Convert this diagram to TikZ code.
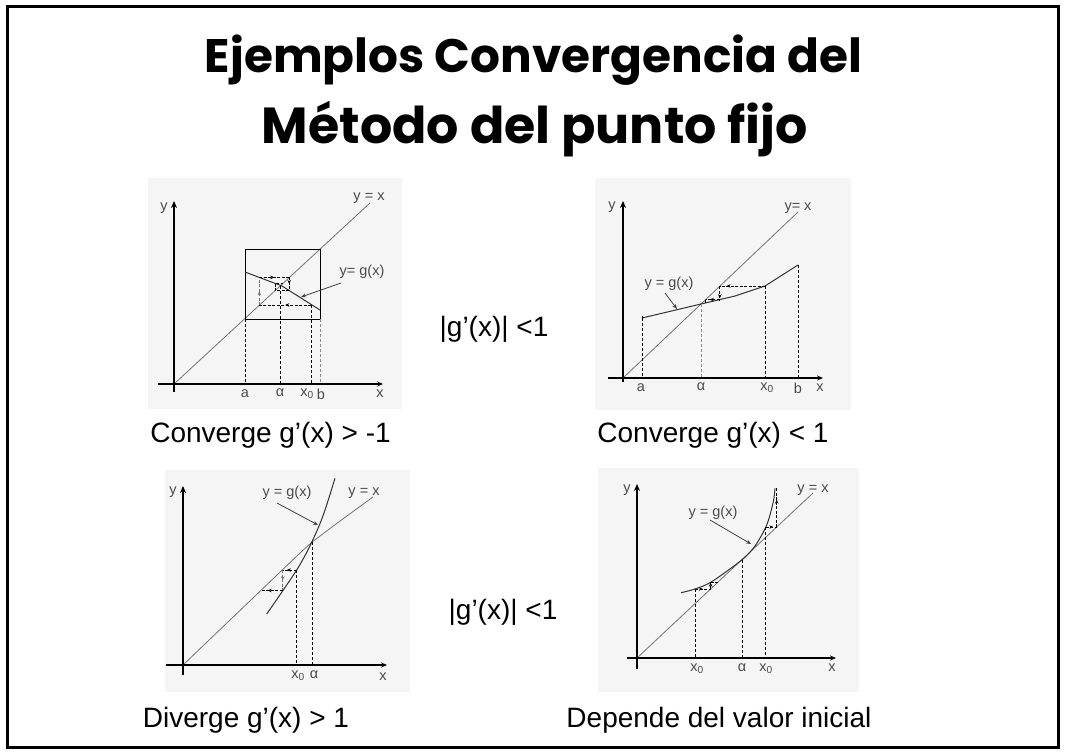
\documentclass[tikz,border=0pt]{standalone}
\usepackage{fontspec}
\setmainfont{Liberation Sans}
\newfontfamily\titlefont{Poppins}
\usetikzlibrary{arrows.meta,decorations.markings}
\definecolor{bgplot}{HTML}{F5F5F5}
\definecolor{lbl}{HTML}{4A4A4A}
\newcommand{\xo}{x\textsubscript{0}}
\tikzset{
  axisx/.style={black, line width=1.4pt, -{Stealth[length=6pt,width=5pt]}},
  axisy/.style={black, line width=2.2pt, -{Stealth[length=7pt,width=6pt]}},
  idline/.style={black!55, line width=0.8pt},
  gline/.style={black!80, line width=1pt},
  dashv/.style={black, line width=0.9pt, dash pattern=on 3pt off 2pt},
  cob/.style={black, line width=0.8pt, dash pattern=on 3pt off 1.5pt},
  marr/.style={postaction={decorate}, decoration={markings, mark=at position #1 with {\arrow{Stealth[length=4pt,width=3.5pt]}}}},
  marr/.default=0.5,
  plbl/.style={font=\fontsize{14.5}{15}\selectfont, text=lbl, inner sep=0pt},
  capt/.style={font=\fontsize{28}{30}\selectfont, inner sep=0pt, anchor=base},
  bgp/.style={fill=bgplot, draw=none},
  ptr/.style={black!75, line width=0.8pt, -{Stealth[length=5pt,width=4pt]}},
  ttl/.style={font=\titlefont\bfseries\fontsize{44}{44}\selectfont, inner sep=0pt, anchor=base}
}
\begin{document}
\begin{tikzpicture}[x=1pt,y=-1pt]
\useasboundingbox (0,0) rectangle (1066,755);
\fill[white] (0,0) rectangle (1066,755);
\draw[line width=3pt] (7.5,6.5) rectangle (1058.5,747.5);
% title
\node[ttl] (t1) at (533.5,72) {\resizebox{657pt}{!}{Ejemplos Convergencia del}};
\node[ttl] (t2) at (535,143) {\resizebox{546pt}{!}{Método del punto fijo}};

% ---------- plot 1 ----------
\fill[bgp] (148,178) rectangle (402,409);
\coordinate (O1) at (174,384);
\coordinate (E1) at (370,203);
\draw[idline] (O1) -- (E1);
\draw[black, line width=1pt] (245,249) rectangle (320,319);
\draw[gline] (245,272) -- (282,286) -- (320,310);
\draw[dashv] (245,319) -- (245,384);
\draw[dashv] (280,286) -- (280,384);
\draw[dashv] (311,305) -- (311,384);
\draw[dashv, black!45] (320,319) -- (320,384);
\draw[cob, marr] (311,305) -- (259.4,305);
\draw[cob, marr, black!55] (259.4,305) -- (259.4,277.4);
\draw[cob, marr] (259.4,277.4) -- (289.2,277.4);
\draw[cob, marr] (289.2,277.4) -- (289.2,290.5);
\draw[cob] (289.2,290.5) -- (275.1,290.5) -- (275.1,283.4) -- (282.8,283.4);
\draw[axisx] (158,384) -- (383,384);
\draw[axisy] (174,392) -- (174,201);
\node[plbl] (y1) at (164,208) {y};
\node[plbl] (yx1) at (369,198) {y = x};
\node[plbl] (g1) at (362,272) {y= g(x)};
\coordinate (p1s) at (341,283);
\coordinate (p1e) at (301,297);
\draw[ptr] (p1s) -- (p1e);
\node[plbl] (a1) at (245,394) {a};
\node[plbl] (al1) at (280,393) {α};
\node[plbl] (x01) at (307,394) {\xo};
\node[plbl] (b1) at (321,394) {b};
\node[plbl] (x1) at (380,394) {x};

% ---------- plot 2 ----------
\fill[bgp] (595,178) rectangle (851,410);
\coordinate (O2) at (623,378);
\coordinate (E2) at (798,212);
\draw[idline] (O2) -- (E2);
\draw[gline] (642,318) -- (701,304) -- (735,296) -- (765,286) -- (798,265);
\draw[black, line width=0.8pt] (642,316) -- (642,321);
\draw[dashv] (642,318) -- (642,378);
\draw[dashv, black!45] (701,304) -- (701,378);
\draw[dashv] (765,286) -- (765,378);
\draw[dashv] (798,265) -- (798,378);
\draw[cob, marr=0.85] (765,286) -- (719.8,286);
\draw[cob, marr=0.9] (719.8,286) -- (719.8,299.6);
\draw[cob, marr=0.7] (719.8,299.6) -- (705.5,299.6);
\draw[cob] (705.5,299.6) -- (705.5,303);
\draw[axisx] (608,378) -- (823,378);
\draw[axisy] (623,382) -- (623,201);
\node[plbl] (y2) at (612,207) {y};
\node[plbl] (yx2) at (798,208) {y= x};
\node[plbl] (g2) at (669,284) {y = g(x)};
\coordinate (p2s) at (665,293);
\coordinate (p2e) at (677,309);
\draw[ptr] (p2s) -- (p2e);
\node[plbl] (a2) at (641,388) {a};
\node[plbl] (al2) at (701,387) {α};
\node[plbl] (x02) at (767,388) {\xo};
\node[plbl] (b2) at (798,388) {b};
\node[plbl] (x2) at (820,388) {x};

% ---------- plot 3 ----------
\fill[bgp] (165,470) rectangle (410,692);
\coordinate (O3) at (183,665);
\coordinate (E3) at (373,497);
\draw[idline] (O3) -- (300,553) -- (311.7,542.3) -- (340,521) -- (E3);
\draw[gline] plot[smooth] coordinates {(266.7,614) (296.7,570) (311.7,542.3) (323.3,515) (335,478.3)};
\draw[dashv] (296.7,570) -- (296.7,665);
\draw[dashv] (312,542.3) -- (312,665);
\draw[cob, marr=0.7] (296.7,570) -- (282.7,570);
\draw[cob, marr, black!55] (282.7,570) -- (282.7,590.5);
\draw[cob, marr=0.7] (282.7,590.5) -- (261.2,590.5);
\draw[axisx] (166,665) -- (387,665);
\draw[axisy] (183,675) -- (183,486);
\node[plbl] (y3) at (173,492) {y};
\node[plbl] (yx3) at (364,493) {y = x};
\node[plbl] (g3) at (287,493) {y = g(x)};
\coordinate (p3s) at (277,503);
\coordinate (p3e) at (318,525);
\draw[ptr] (p3s) -- (p3e);
\node[plbl] (x03) at (298,676) {\xo};
\node[plbl] (al3) at (314,675) {α};
\node[plbl] (x3) at (383,677) {x};

% ---------- plot 4 ----------
\fill[bgp] (598,468) rectangle (859,692);
\coordinate (O4) at (637,658);
\coordinate (E4) at (813,493);
\draw[idline] (O4) -- (E4);
\draw[gline] plot[smooth] coordinates {(681,592.7) (695,589) (711.7,581.7) (741.7,560) (755,546) (766.7,525) (773.3,501.7) (775,488.3)};
\draw[dashv] (695,589) -- (695,658);
\draw[dashv] (742,560) -- (742,658);
\draw[dashv] (765.7,527) -- (765.7,658);
\draw[cob, marr] (695,589) -- (710.6,589);
\draw[cob, marr=0.9] (710.6,589) -- (710.6,582);
\draw[cob] (710.6,582) -- (718,582);
\draw[cob, marr=0.7] (765.7,527) -- (776.7,527);
\draw[cob, marr=0.7] (776.7,527) -- (776.7,488);
\draw[axisx] (627,658) -- (836,658);
\draw[axisy] (637,669) -- (637,484);
\node[plbl] (y4) at (627,490) {y};
\node[plbl] (yx4) at (813,490) {y = x};
\node[plbl] (g4) at (713,513) {y = g(x)};
\coordinate (p4s) at (710,520);
\coordinate (p4e) at (751,544);
\draw[ptr] (p4s) -- (p4e);
\node[plbl] (x04a) at (697,669) {\xo};
\node[plbl] (al4) at (742,668) {α};
\node[plbl] (x04b) at (766,669) {\xo};
\node[plbl] (x4) at (832,668) {x};

% ---------- texts ----------
\node[capt] (m1) at (494,336.5) {|g’(x)| <1};
\node[capt] (m2) at (503,619) {|g’(x)| <1};
\node[capt] (c1) at (270.5,442) {Converge g’(x) > -1};
\node[capt] (c2) at (713,442) {Converge g’(x) < 1};
\node[capt] (c3) at (246,727) {Diverge g’(x) > 1};
\node[capt] (c4) at (719,727) {Depende del valor inicial};
\end{tikzpicture}
\end{document}
